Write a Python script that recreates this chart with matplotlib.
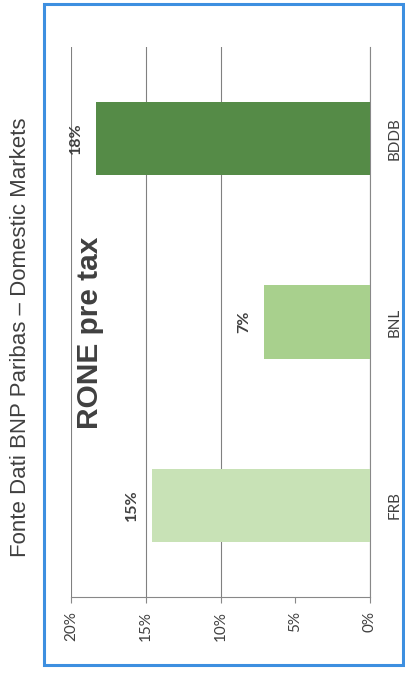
import matplotlib
matplotlib.use("Agg")
import matplotlib.pyplot as plt
from matplotlib.patches import Rectangle

# RONE pre tax by domestic market
banks = ["FRB", "BNL", "BDDB"]
rone = [14.6, 7.1, 18.3]
colors = ["#c8e2b6", "#a8d08d", "#558b47"]
ticks = [0, 5, 10, 15, 20]

fig = plt.figure(figsize=(4.06, 6.73), dpi=100)
ax = fig.add_axes([71 / 406, 1 - 597 / 673, 299 / 406, 550 / 673])

ax.barh(range(len(banks)), rone, height=0.4, color=colors, zorder=3)

ax.set_xlim(20, 0)
ax.set_ylim(-0.5, 2.5)
ax.set_xticks(ticks)
ax.set_xticklabels([f"{t}%" for t in ticks], rotation=90, fontsize=11,
                   color="#404040", family=["Lato", "DejaVu Sans"])
ax.tick_params(axis="x", length=4, width=0.8, color="#888888", pad=6)

ax.yaxis.tick_right()
ax.set_yticks(range(len(banks)))
ax.set_yticklabels(banks, rotation=90, va="center", fontsize=11,
                   color="#404040", family=["Lato", "DejaVu Sans"])
ax.tick_params(axis="y", length=0, pad=13)

ax.grid(axis="x", color="#808080", linewidth=0.8, zorder=0)
ax.xaxis.get_gridlines()[1].set_visible(False)
for side in ["left", "top"]:
    ax.spines[side].set_visible(False)
for side in ["bottom", "right"]:
    ax.spines[side].set_color("#888888")
    ax.spines[side].set_linewidth(0.8)

# value labels just past the end of each bar
for i, v in enumerate(rone):
    ax.annotate(f"{v:.0f}%", (v, i), xytext=(-20, 0), textcoords="offset pixels",
                rotation=90, ha="center", va="center", fontsize=11.5,
                fontweight="bold", color="#404040", family=["Lato", "DejaVu Sans"])

ax.text(90 / 406, 1 - 333 / 673, "RONE pre tax", transform=fig.transFigure,
        rotation=90, ha="center", va="center", fontsize=21.5, fontweight="bold",
        color="#404040", family=["Liberation Sans", "DejaVu Sans"])

fig.text(21 / 406, 1 - 337 / 673, "Fonte Dati BNP Paribas \u2013 Domestic Markets",
         rotation=90, ha="center", va="center", fontsize=16, color="#404040",
         family=["Liberation Sans", "DejaVu Sans"])

# blue frame around the chart
fig.patches.append(Rectangle((44 / 406, 1 - 665 / 673), 359 / 406, 661 / 673,
                             transform=fig.transFigure, fill=False,
                             edgecolor="#3d8fe0", linewidth=2.2))

fig.savefig("out.png", dpi=100)
